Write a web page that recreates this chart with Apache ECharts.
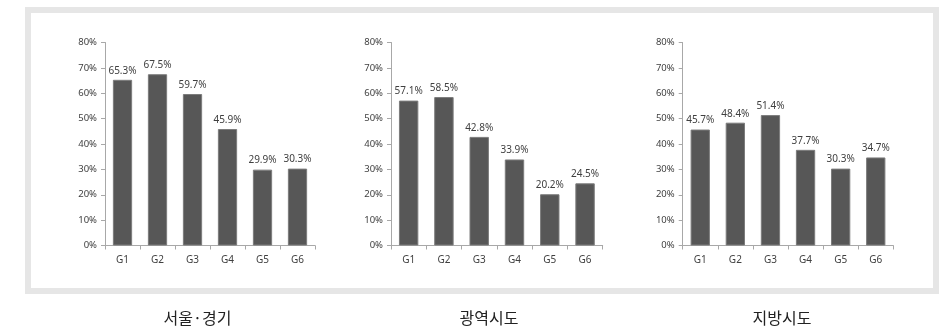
<!DOCTYPE html>
<html>
<head>
<meta charset="utf-8">
<style>
  html, body { margin: 0; padding: 0; background: #ffffff; }
  #chart { width: 946px; height: 329px; }
</style>
<script src="https://cdn.jsdelivr.net/npm/echarts@6/dist/echarts.min.js"></script>
</head>
<body>
<div id="chart"></div>
<script>
// Category labels shared by all three panels
const categories = ['G1', 'G2', 'G3', 'G4', 'G5', 'G6'];

// Share (%) per group, by region
const seoulGyeonggi = [65.3, 67.5, 59.7, 45.9, 29.9, 30.3];
const metroCities   = [57.1, 58.5, 42.8, 33.9, 20.2, 24.5];
const provinces     = [45.7, 48.4, 51.4, 37.7, 30.3, 34.7];

// Panel captions
const panelTitles = ['서울·경기', '광역시도', '지방시도'];

// Y axis range
const yMin = 0;
const yMax = 80;
const yStep = 10;

const panelData = [seoulGyeonggi, metroCities, provinces];

const grids = [
  { left: 105,   right: 631,   top: 42.5, bottom: 83.5 },
  { left: 391,   right: 343.3, top: 42.5, bottom: 83.5 },
  { left: 682.7, right: 52.7,  top: 42.5, bottom: 83.5 }
];
const titleCenters = [192.5, 484, 777];

const axisColor = '#a8a8a8';
const textColor = '#404040';
const fontFamily = '"Noto Sans", "DejaVu Sans", sans-serif';

const chart = echarts.init(document.getElementById('chart'), null, { renderer: 'canvas' });

const option = {
  backgroundColor: '#ffffff',
  animation: false,
  graphic: [{
    type: 'rect',
    shape: { x: 28, y: 10, width: 908, height: 281 },
    style: { fill: 'none', stroke: '#e6e6e6', lineWidth: 6 },
    silent: true,
    z: -1
  }],
  title: panelTitles.map((t, i) => ({
    text: t,
    left: titleCenters[i],
    top: 305,
    textAlign: 'center',
    textStyle: {
      fontSize: 16,
      fontWeight: 'normal',
      color: '#222222',
      fontFamily: '"Noto Sans CJK KR", "Noto Sans", sans-serif'
    }
  })),
  grid: grids,
  xAxis: grids.map((g, i) => ({
    type: 'category',
    gridIndex: i,
    data: categories,
    boundaryGap: true,
    axisLine: { show: true, lineStyle: { color: axisColor, width: 1 } },
    axisTick: { show: true, alignWithLabel: false, length: 4, lineStyle: { color: axisColor } },
    axisLabel: { color: textColor, fontSize: 10, margin: 10, fontFamily: fontFamily },
    splitLine: { show: false }
  })),
  yAxis: grids.map((g, i) => ({
    type: 'value',
    gridIndex: i,
    min: yMin,
    max: yMax,
    interval: yStep,
    axisLine: { show: true, lineStyle: { color: axisColor, width: 1 } },
    axisTick: { show: true, length: 4, lineStyle: { color: axisColor } },
    axisLabel: { color: textColor, fontSize: 9.5, margin: 8, formatter: '{value}%', fontFamily: fontFamily },
    splitLine: { show: false }
  })),
  series: panelData.map((d, i) => ({
    type: 'bar',
    xAxisIndex: i,
    yAxisIndex: i,
    data: d,
    barWidth: '55%',
    itemStyle: { color: '#575757', borderColor: '#7c7c7c', borderWidth: 1 },
    label: {
      show: true,
      position: 'top',
      distance: 4,
      color: textColor,
      fontSize: 10,
      fontFamily: fontFamily,
      formatter: p => p.value.toFixed(1) + '%'
    }
  }))
};

chart.setOption(option);
</script>
</body>
</html>
